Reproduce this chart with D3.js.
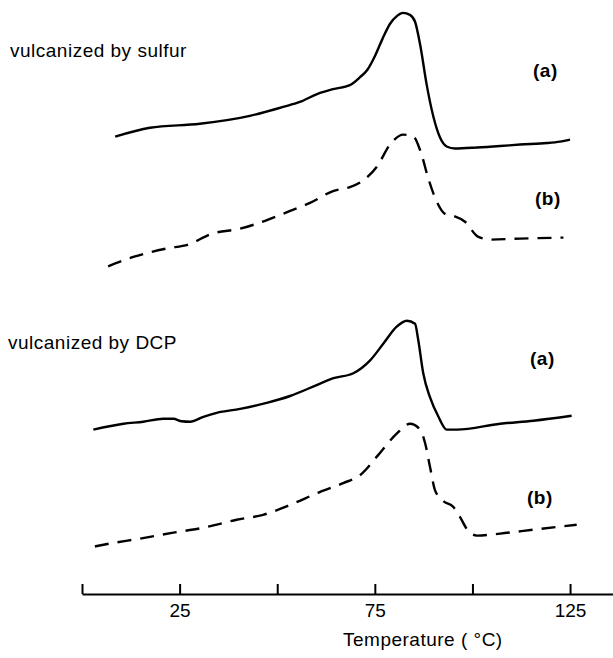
<!DOCTYPE html>
<html>
<head>
<meta charset="utf-8">
<script src="https://cdn.jsdelivr.net/npm/d3@7"></script>
<style>
  body { margin: 0; background: #fff; }
  text { font-family: "Liberation Sans", Arial, sans-serif; fill: #000; }
</style>
</head>
<body>
<div id="container"></div>
<script>
// [temperature (°C), heat flow (arbitrary units, curves offset)]
var sulfurA = [[8.5,46.2],[17.4,47.1],[30.2,47.5],[43.0,48.3],[51.5,49.2],[55.8,49.7],[60.2,50.5],
  [64.3,51.0],[68.6,51.4],[71.2,52.2],[73.0,52.9],[75.1,54.4],[77.1,56.2],[78.9,57.6],[80.7,58.4],
  [82.2,58.7],[84.0,58.5],[85.3,57.8],[86.6,55.5],[88.3,51.4],[90.0,48.2],[91.7,46.1],[93.4,45.2],
  [95.5,45.0],[101.2,45.1],[107.1,45.25],[112.2,45.4],[119.1,45.55],[122.4,45.7],[125.0,45.9]];

var sulfurB = [[6.7,33.1],[13.6,34.1],[21.7,34.9],[27.2,35.3],[33.3,36.4],[40.5,36.9],[46.9,37.7],
  [53.3,38.7],[58.4,39.5],[64.3,40.7],[68.6,41.1],[71.7,41.7],[75.6,43.2],[78.9,45.4],[82.3,46.4],
  [84.9,46.2],[86.8,44.6],[88.6,42.1],[90.9,39.6],[93.0,38.4],[95.1,38.2],[98.1,37.6],[101.4,36.1],
  [104.5,35.8],[112.2,35.9],[123.3,36.0]];

var dcpA = [[2.9,16.6],[10.6,17.2],[15.7,17.4],[20.8,17.7],[23.4,17.7],[25.5,17.45],[27.7,17.4],
  [31.1,17.9],[34.5,18.3],[40.5,18.7],[47.3,19.3],[53.3,20.0],[60.1,21.1],[64.4,21.8],[69.5,22.3],
  [73.8,23.6],[77.2,25.3],[80.6,27.0],[83.2,27.6],[85.3,27.3],[86.1,25.7],[87.4,22.3],[89.1,19.9],
  [91.3,17.9],[93.4,16.6],[96.0,16.6],[107.1,17.2],[115.6,17.5],[125.4,18.0]];

var dcpB = [[3.3,4.8],[7.2,5.1],[14.9,5.6],[23.4,6.2],[31.1,6.7],[39.6,7.5],[46.4,8.0],[53.3,9.0],
  [60.9,10.3],[66.9,11.2],[71.2,12.0],[75.8,14.0],[80.6,16.2],[84.0,17.2],[86.6,16.6],[87.9,15.2],
  [89.1,12.9],[90.4,10.5],[92.5,9.4],[95.1,8.8],[96.8,7.8],[98.5,6.6],[101.1,5.9],[107.1,6.1],
  [115.6,6.5],[126.7,7.0]];

var tickValues = [0, 25, 50, 75, 100, 125];
var tickLabels = ["", "25", "", "75", "", "125"];

var width = 613, height = 658;

var svg = d3.select("#container")
    .append("svg")
    .attr("width", width)
    .attr("height", height);

var x = d3.scaleLinear().domain([0, 136]).range([82, 613]);
var y = d3.scaleLinear().domain([0, 60]).range([594, 0]);

var line = d3.line()
    .x(function (d) { return x(d[0]); })
    .y(function (d) { return y(d[1]); })
    .curve(d3.curveMonotoneX);

var curves = [
    { data: sulfurA, dash: null },
    { data: sulfurB, dash: "14,9" },
    { data: dcpA, dash: null },
    { data: dcpB, dash: "14,9" }
];

curves.forEach(function (c) {
    svg.append("path")
        .datum(c.data)
        .attr("d", line)
        .style("fill", "none")
        .attr("stroke", "#000")
        .attr("stroke-width", 2.4)
        .attr("stroke-linejoin", "round")
        .attr("stroke-dasharray", c.dash);
});

// x axis, ticks pointing up
var axis = svg.append("g")
    .attr("transform", "translate(0," + y(0) + ")")
    .call(d3.axisBottom(x)
        .tickValues(tickValues)
        .tickSizeInner(-10)
        .tickSizeOuter(0)
        .tickPadding(10)
        .tickFormat(function (d, i) { return tickLabels[i]; }));

axis.select(".domain").attr("stroke-width", 2);
axis.selectAll(".tick line").attr("stroke-width", 2);
axis.selectAll(".tick text")
    .style("font-family", "'Liberation Sans', Arial, sans-serif")
    .style("font-size", "19px")
    .attr("fill", "#000");

svg.append("text")
    .attr("x", 343)
    .attr("y", 646)
    .style("font-size", "19px")
    .style("letter-spacing", "0.5px")
    .text("Temperature ( °C)");

// panel titles
svg.append("text")
    .attr("x", 10)
    .attr("y", 57)
    .style("font-size", "19px")
    .style("letter-spacing", "0.5px")
    .text("vulcanized by sulfur");

svg.append("text")
    .attr("x", 8)
    .attr("y", 349)
    .style("font-size", "19px")
    .style("letter-spacing", "0.5px")
    .text("vulcanized by DCP");

var tags = [
    { t: "(a)", x: 533, y: 77 },
    { t: "(b)", x: 535, y: 205 },
    { t: "(a)", x: 530, y: 365 },
    { t: "(b)", x: 527, y: 504 }
];

svg.selectAll(".tag")
    .data(tags)
    .enter()
    .append("text")
    .attr("class", "tag")
    .attr("x", function (d) { return d.x; })
    .attr("y", function (d) { return d.y; })
    .style("font-size", "19px")
    .style("font-weight", "bold")
    .style("letter-spacing", "0.5px")
    .text(function (d) { return d.t; });
</script>
</body>
</html>
